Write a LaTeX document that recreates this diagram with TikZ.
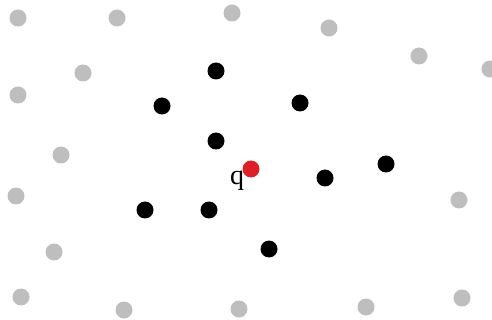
\documentclass[tikz,border=0pt]{standalone}
\usepackage{tikz}
\usepackage{fontspec}
\setmainfont{Liberation Serif}

\definecolor{ptgray}{RGB}{190,190,190}
\definecolor{ptred}{RGB}{220,32,40}
\tikzset{
  farpt/.style={circle, fill=ptgray, minimum size=17pt, inner sep=0pt},
  nearpt/.style={circle, fill=black, minimum size=17pt, inner sep=0pt},
  querypt/.style={circle, fill=ptred, minimum size=17pt, inner sep=0pt}
}

\begin{document}
\begin{tikzpicture}[x=1pt,y=-1pt]
\clip (0,0) rectangle (492,320);
\fill[white] (0,0) rectangle (492,320);
% points far from q
\foreach \px/\py [count=\i] in {18/18, 117/18, 232/13, 329/28, 419/56, 490/69,
    83/73, 18/95, 61/155, 16/196, 459/200, 54/252,
    21/297, 124/310, 239/309, 366/307, 462/298}
  \node[farpt] (far\i) at (\px,\py) {};
% nearest neighbours
\foreach \px/\py [count=\i] in {216/71, 162/106, 300/103, 216/141, 386/164,
    325/178, 145/210, 209/210, 269/249}
  \node[nearpt] (near\i) at (\px,\py) {};
% query point
\node[querypt] (q) at (251,169) {};
\node[font=\fontsize{28}{32}\selectfont, inner sep=0pt] (qlabel) at (237,181) {q};
\end{tikzpicture}
\end{document}
